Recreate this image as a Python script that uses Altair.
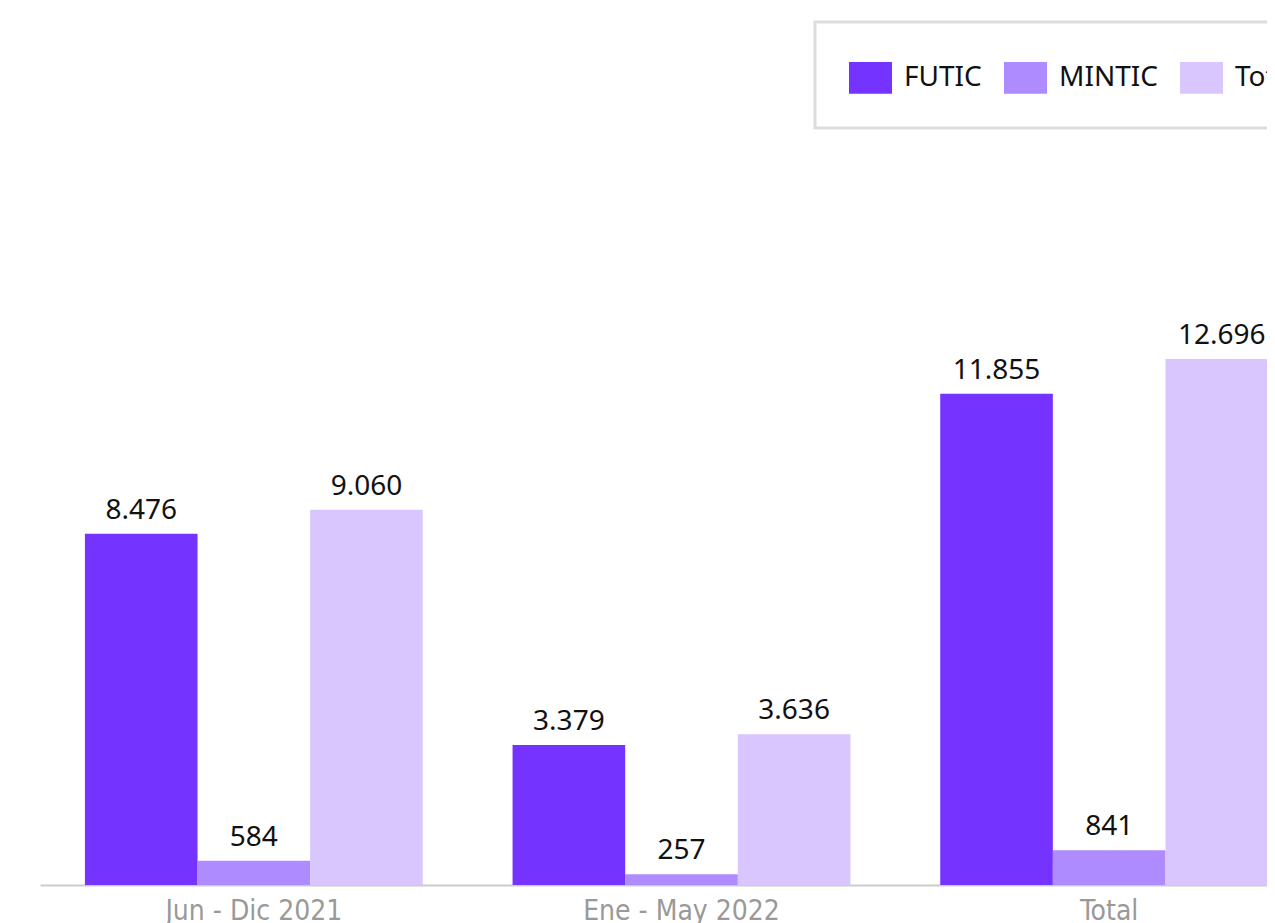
import altair as alt
import pandas as pd

periods = ["Jun - Dic 2021", "Ene - May 2022", "Total"]
series = ["FUTIC", "MINTIC", "Total"]
futic = [8476, 3379, 11855]
mintic = [584, 257, 841]
total = [9060, 3636, 12696]
colors = ["#7433FF", "#AE8BFF", "#D9C6FF"]

def fmt(v):
    return f"{v:,}".replace(",", ".")

rows = []
for i, p in enumerate(periods):
    for s, vals in zip(series, [futic, mintic, total]):
        rows.append({"periodo": p, "serie": s, "valor": vals[i], "etiqueta": fmt(vals[i])})
df = pd.DataFrame(rows)

x = alt.X("periodo:N", sort=periods, title=None,
          scale=alt.Scale(paddingInner=0.21, paddingOuter=0.105, range=[0, 1283]),
          axis=alt.Axis(labelAngle=0, labelFontSize=28, labelColor="#999999",
                        labelFont="DejaVu Sans Condensed", labelPadding=12, labelLimit=500,
                        ticks=False, domainColor="#cccccc", domainWidth=2))
xo = alt.XOffset("serie:N", sort=series, scale=alt.Scale(paddingInner=0, paddingOuter=0))
y = alt.Y("valor:Q", scale=alt.Scale(domain=[0, 21000]), axis=None)

bars = alt.Chart(df).mark_bar().encode(
    x=x, xOffset=xo, y=y,
    color=alt.Color("serie:N", sort=series,
                    scale=alt.Scale(domain=series, range=colors),
                    legend=alt.Legend(title=None, orient="none", legendX=775, legendY=7,
                                      direction="horizontal", columns=3,
                                      symbolType="M-1,-0.74H1V0.74H-1Z", symbolSize=1849,
                                      symbolStrokeWidth=0, symbolOpacity=1,
                                      labelFontSize=28, labelFont="Noto Sans", labelColor="#111111",
                                      labelOffset=12, columnPadding=22, padding=34,
                                      strokeColor="#dddddd", labelLimit=300)),
)

labels = alt.Chart(df).mark_text(baseline="alphabetic", dy=-15, fontSize=28, font="Noto Sans",
                                 color="#111111").encode(
    x=x, xOffset=xo, y=y, text="etiqueta:N"
)

chart = (bars + labels).properties(
    width=1227, height=870,
    padding={"left": 32, "top": 7, "right": 0, "bottom": 38},
    autosize=alt.AutoSizeParams(type="none"),
).configure_view(stroke=None).configure_legend(strokeWidth=3)

chart.save("out.html", embed_options={"renderer": "svg", "actions": False})
